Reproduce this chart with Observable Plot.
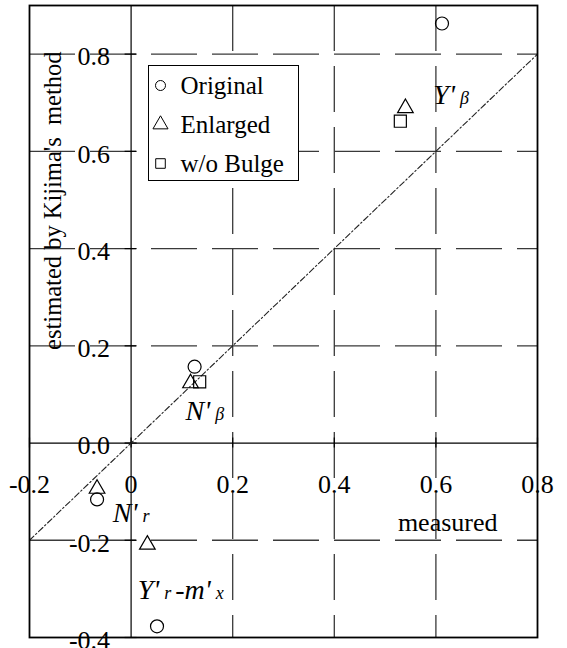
<!DOCTYPE html>
<html>
<head>
<meta charset="utf-8">
<script src="https://cdn.jsdelivr.net/npm/d3@7"></script>
<script src="https://cdn.jsdelivr.net/npm/@observablehq/plot@0.6"></script>
<style>
  html, body { margin: 0; padding: 0; background: #fff; }
  #chart svg { display: block; }
  #chart svg text { font-family: "Liberation Serif", "Times New Roman", Times, serif; }
</style>
</head>
<body>
<div id="chart"></div>
<script>
// Hydrodynamic derivatives: measured vs. estimated by Kijima's method
const originalX = [0.612, 0.125, -0.067, 0.051];
const originalY = [0.863, 0.157, -0.116, -0.377];
const enlargedX = [0.540, 0.117, -0.067, 0.032];
const enlargedY = [0.689, 0.123, -0.094, -0.209];
const noBulgeX = [0.530, 0.135];
const noBulgeY = [0.662, 0.126];

const seriesNames = ["Original", "Enlarged", "w/o Bulge"];
const seriesSymbols = ["circle", "triangle", "square"];

const xTicks = [-0.2, 0, 0.2, 0.4, 0.6, 0.8];
const xTickLabels = ["-0.2", "0", "0.2", "0.4", "0.6", "0.8"];
const yTicks = [-0.4, -0.2, 0, 0.2, 0.4, 0.6, 0.8];
const yTickLabels = ["-0.4", "-0.2", "0.0", "0.2", "0.4", "0.6", "0.8"];
const gridX = [0.2, 0.4, 0.6];
const gridY = [-0.2, 0.2, 0.4, 0.6, 0.8];
const diagonal = [-0.2, 0.8];

// derivative names: "|" separates normal and small (subscript-size) parts
const derivLabels = ["Y'|β", "N'|β", "N'|r", "Y'|r|-m'|x"];
const derivLabelX = [0.595, 0.107, -0.036, 0.013];
const derivLabelY = [0.715, 0.066, -0.143, -0.303];

const serif = "Liberation Serif";
const pts = (xs, ys) => xs.map((x, i) => ({x, y: ys[i]}));

const legendSizes = [5, 5.6, 5.4];
const legendMarks = seriesNames.flatMap((name, i) => [
  Plot.dot([name], {
    frameAnchor: "top-left", dx: 131, dy: 80 + i * 39,
    symbol: seriesSymbols[i], r: legendSizes[i],
    stroke: "black", strokeWidth: 1, fill: "none"
  }),
  Plot.text([name], {
    frameAnchor: "top-left", dx: 151, dy: 80 + i * 39,
    text: d => d, textAnchor: "start", lineAnchor: "middle",
    fontSize: 25, fontFamily: serif, fill: "black"
  })
]);

const chart = Plot.plot({
  width: 567,
  height: 648,
  marginLeft: 29,
  marginRight: 30,
  marginTop: 5,
  marginBottom: 11,
  x: {domain: [-0.2, 0.8], axis: null},
  y: {domain: [-0.4, 0.9], axis: null},
  style: "background: white; overflow: visible; font-family: 'Liberation Serif', serif;",
  marks: [
    // dashed grid
    Plot.ruleX(gridX, {stroke: "#3a3a3a", strokeWidth: 1.3, strokeDasharray: "46,15"}),
    Plot.ruleY(gridY, {stroke: "#3a3a3a", strokeWidth: 1.3, strokeDasharray: "46,15"}),
    // axes through the origin
    Plot.ruleY([0], {stroke: "black", strokeWidth: 1.2}),
    Plot.ruleX([0], {stroke: "black", strokeWidth: 1.2}),
    Plot.ruleX(xTicks, {y1: 0, y2: 0, insetTop: -5, insetBottom: -5, stroke: "black", strokeWidth: 1.2}),
    Plot.ruleY(yTicks, {x1: 0, x2: 0, insetLeft: -6, insetRight: -6, stroke: "black", strokeWidth: 1.2}),
    // y = x reference line
    Plot.line(diagonal.map(v => ({x: v, y: v})), {
      x: "x", y: "y", stroke: "#222", strokeWidth: 1.1, strokeDasharray: "6,2.5,1.5,2.5"
    }),
    Plot.frame({stroke: "black", strokeWidth: 1.8}),
    // tick labels
    Plot.text(xTicks.map((v, i) => ({v, label: xTickLabels[i]})), {
      x: "v", y: 0, text: "label", dy: 42, fontSize: 26, fontFamily: serif,
      lineAnchor: "middle", fill: "black"
    }),
    Plot.text(yTicks.map((v, i) => ({v, label: yTickLabels[i]})), {
      x: 0, y: "v", text: "label", dx: -21, dy: 3, fontSize: 26, fontFamily: serif,
      textAnchor: "end", lineAnchor: "middle", fill: "black"
    }),
    // axis titles
    Plot.text(["estimated by Kijima's\u00a0 method"], {
      frameAnchor: "top-left", dx: 24, dy: 46, rotate: -90,
      textAnchor: "end", lineAnchor: "middle", fontSize: 24.5, fontFamily: serif, fill: "black"
    }),
    Plot.text(["measured"], {
      frameAnchor: "right", dx: -40, dy: 201, textAnchor: "end",
      lineAnchor: "middle", fontSize: 26, fontFamily: serif, fill: "black"
    }),
    // data
    Plot.dot(pts(originalX, originalY), {
      x: "x", y: "y", symbol: "circle", r: 6.5, stroke: "black", strokeWidth: 1.2, fill: "none"
    }),
    Plot.dot(pts(enlargedX, enlargedY), {
      x: "x", y: "y", symbol: "triangle", r: 5.8, stroke: "black", strokeWidth: 1.2, fill: "none"
    }),
    Plot.dot(pts(noBulgeX, noBulgeY), {
      x: "x", y: "y", symbol: "square", r: 6.8, stroke: "black", strokeWidth: 1.2, fill: "none"
    }),
    // derivative names
    Plot.text(derivLabels.map((t, i) => ({t, x: derivLabelX[i], y: derivLabelY[i]})), {
      x: "x", y: "y", text: "t", textAnchor: "start", lineAnchor: "middle",
      fontSize: 28, fontStyle: "italic", fontFamily: serif, fill: "black"
    }),
    // legend box and entries
    Plot.frame({fill: "white", stroke: "black", strokeWidth: 1,
      insetLeft: 119, insetTop: 60, insetRight: 239, insetBottom: 457}),
    ...legendMarks
  ]
});

// split derivative names into normal and small parts
const svgNS = "http://www.w3.org/2000/svg";
chart.querySelectorAll("text").forEach(t => {
  const s = t.textContent;
  if (!s.includes("|")) return;
  const parts = s.split("|");
  t.textContent = "";
  parts.forEach((p, k) => {
    const ts = document.createElementNS(svgNS, "tspan");
    ts.textContent = p;
    if (k % 2 === 1) {
      ts.setAttribute("font-size", "18");
      ts.setAttribute("dx", "5");
    } else if (k > 0) {
      ts.setAttribute("dx", "4");
    }
    t.appendChild(ts);
  });
});

document.getElementById("chart").appendChild(chart);
</script>
</body>
</html>
